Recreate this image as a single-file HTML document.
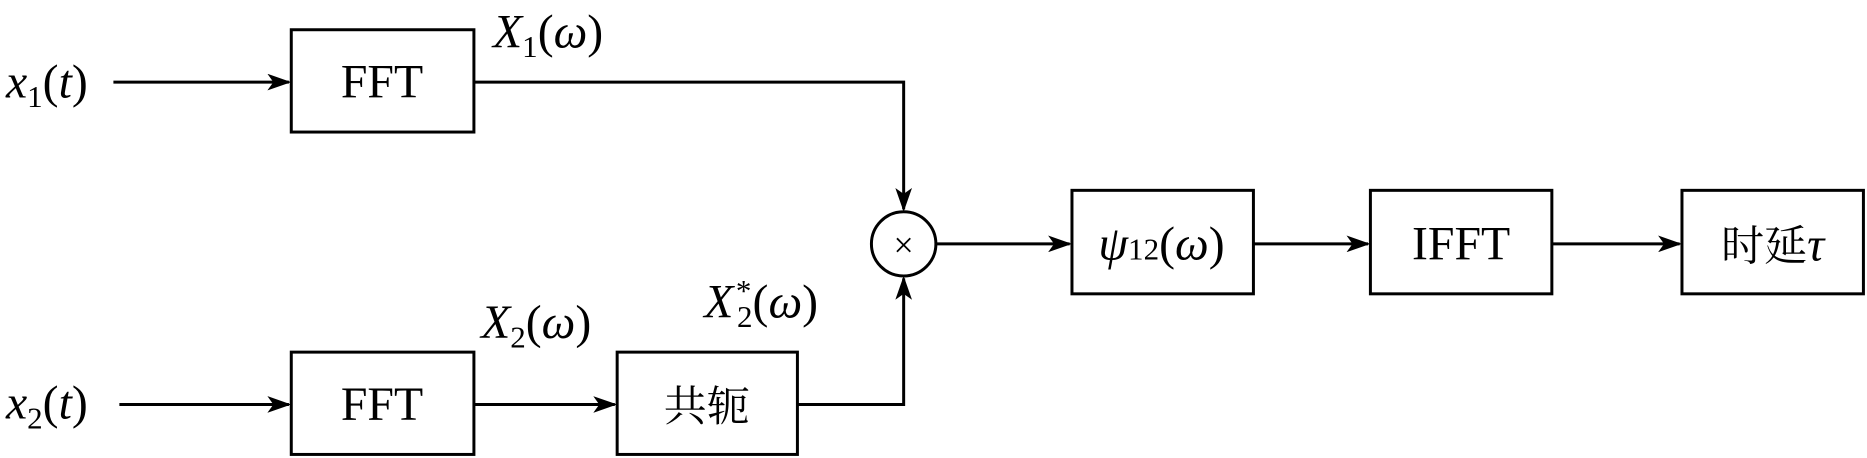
<!DOCTYPE html>
<html><head><meta charset="utf-8"><style>html,body{margin:0;padding:0;background:#fff;}svg{display:block}</style></head>
<body>
<svg width="1867" height="458" viewBox="0 0 1564 385" preserveAspectRatio="none" xmlns="http://www.w3.org/2000/svg" font-family="Liberation Serif, Noto Serif CJK SC, serif">
<defs><marker id="a" markerWidth="10" markerHeight="10" refX="9" refY="5" orient="auto" markerUnits="userSpaceOnUse" viewBox="0 0 10 10"><path d="M0,0 L10,5 L0,10 L3,5 z" fill="#000"/></marker>
<marker id="b" markerWidth="20" markerHeight="14" refX="18" refY="7" orient="auto" markerUnits="userSpaceOnUse" viewBox="0 0 20 14"><path d="M0,0 L20,7 L0,14 L5,7 z" fill="#000"/></marker></defs>
<g fill="none" stroke="#000" stroke-width="2.5">
<rect x="244" y="25" width="153" height="86"/>
<rect x="244" y="296" width="153" height="86"/>
<rect x="517" y="296" width="151" height="86"/>
<rect x="898" y="160" width="152" height="87"/>
<rect x="1148" y="160" width="152" height="87"/>
<rect x="1409" y="160" width="152" height="87"/>
<circle cx="757" cy="205" r="27"/>
<path d="M95,69 H242" marker-end="url(#b)"/>
<path d="M100,340 H242" marker-end="url(#b)"/>
<path d="M397,340 H515" marker-end="url(#b)"/>
<path d="M397,69 H757 V176" marker-end="url(#b)"/>
<path d="M668,340 H757 V234" marker-end="url(#b)"/>
<path d="M784,205 H896" marker-end="url(#b)"/>
<path d="M1050,205 H1146" marker-end="url(#b)"/>
<path d="M1300,205 H1407" marker-end="url(#b)"/>
</g>
<g font-size="40" text-anchor="middle">
<text x="320" y="82">FFT</text>
<text x="320" y="353">FFT</text>
<text x="592" y="354" font-family="Noto Serif CJK SC, serif" font-size="36">共轭</text>
<text x="1224" y="218">IFFT</text>
<text x="1485" y="219"><tspan font-family="Noto Serif CJK SC, serif" font-size="36">时延</tspan><tspan font-style="italic">τ</tspan></text>
<text x="973" y="218"><tspan font-style="italic">ψ</tspan><tspan font-size="26">12</tspan>(<tspan font-style="italic">ω</tspan>)</text>
<text x="757" y="216" font-size="30">×</text>
</g>
<g font-size="40">
<text x="5" y="82"><tspan font-style="italic">x</tspan><tspan font-size="26" dy="8">1</tspan><tspan dy="-8">(</tspan><tspan font-style="italic">t</tspan>)</text>
<text x="5" y="352"><tspan font-style="italic">x</tspan><tspan font-size="26" dy="8">2</tspan><tspan dy="-8">(</tspan><tspan font-style="italic">t</tspan>)</text>
<text x="413" y="40"><tspan font-style="italic">X</tspan><tspan font-size="26" dy="8">1</tspan><tspan dy="-8">(</tspan><tspan font-style="italic">ω</tspan>)</text>
<text x="403" y="284"><tspan font-style="italic">X</tspan><tspan font-size="26" dy="8">2</tspan><tspan dy="-8">(</tspan><tspan font-style="italic">ω</tspan>)</text>
<text x="590" y="267"><tspan font-style="italic">X</tspan><tspan font-size="26" dx="2" dy="-14">*</tspan><tspan font-size="26" dx="-12" dy="22">2</tspan><tspan dy="-8">(</tspan><tspan font-style="italic">ω</tspan>)</text>
</g>
</svg>
</body></html>
